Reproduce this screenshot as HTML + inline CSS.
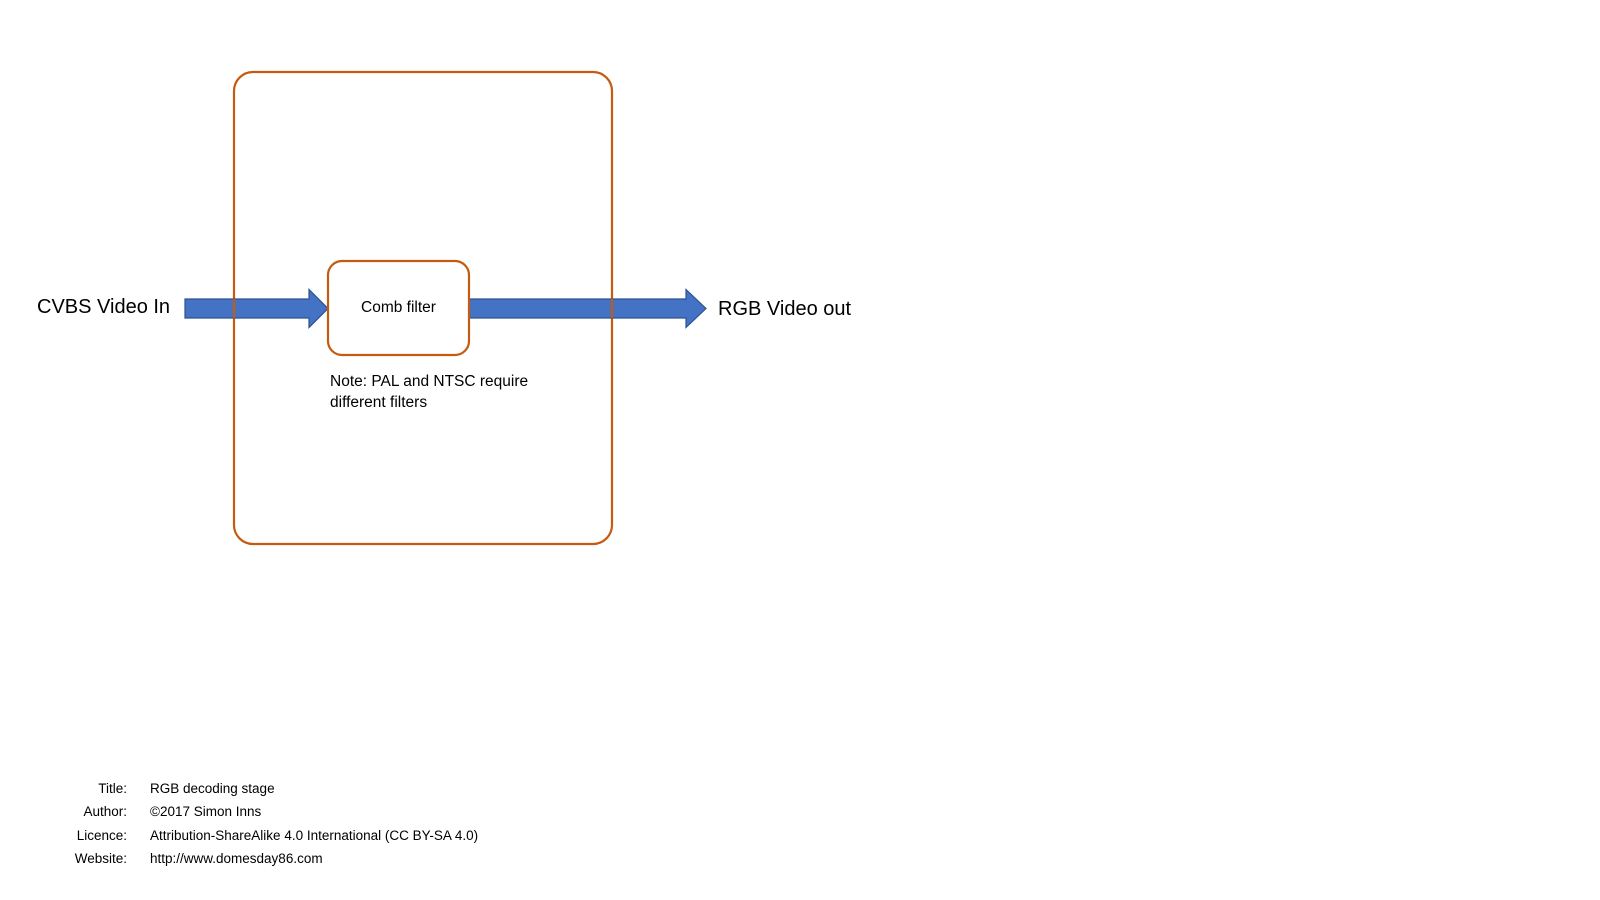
<!DOCTYPE html>
<html><head><meta charset="utf-8"><style>
html,body{margin:0;padding:0;background:#fff;}
body{width:1600px;height:900px;position:relative;overflow:hidden;font-family:"Liberation Sans",sans-serif;color:#000;}
.t{position:absolute;white-space:nowrap;}
</style></head><body>
<svg width="1600" height="900" style="position:absolute;left:0;top:0">
<rect x="234" y="72" width="378" height="472" rx="19" fill="none" stroke="#C55A11" stroke-width="2.2"/>
<polygon points="185,299 309,299 309,289.5 328,308.5 309,327.5 309,318 185,318" fill="#4472C4" stroke="#2F528F" stroke-width="1.2"/>
<polygon points="469,299 686,299 686,289.5 706,308.5 686,327.5 686,318 469,318" fill="#4472C4" stroke="#2F528F" stroke-width="1.2"/>
<rect x="328" y="261" width="141" height="94" rx="14" fill="#fff" stroke="#C55A11" stroke-width="2.2"/>
<line x1="234" y1="299" x2="234" y2="318" stroke="#C55A11" stroke-width="2.2"/>
<line x1="612" y1="299" x2="612" y2="318" stroke="#C55A11" stroke-width="2.2"/>
</svg>
<div class="t" style="left:37px;top:296px;font-size:20px;">CVBS Video In</div>
<div class="t" style="left:718px;top:298px;font-size:20px;">RGB Video out</div>
<div class="t" style="left:328px;width:141px;text-align:center;top:299px;font-size:15.5px;">Comb filter</div>
<div class="t" style="left:330px;top:372px;font-size:15.5px;line-height:20.5px;">Note: PAL and NTSC require<br>different filters</div>
<div class="t" style="left:0;width:127px;text-align:right;top:777px;font-size:13.5px;line-height:23.4px;">Title:<br>Author:<br>Licence:<br>Website:</div>
<div class="t" style="left:150px;top:777px;font-size:13.5px;line-height:23.4px;">RGB decoding stage<br>©2017 Simon Inns<br>Attribution-ShareAlike 4.0 International (CC BY-SA 4.0)<br>http://www.domesday86.com</div>
</body></html>
